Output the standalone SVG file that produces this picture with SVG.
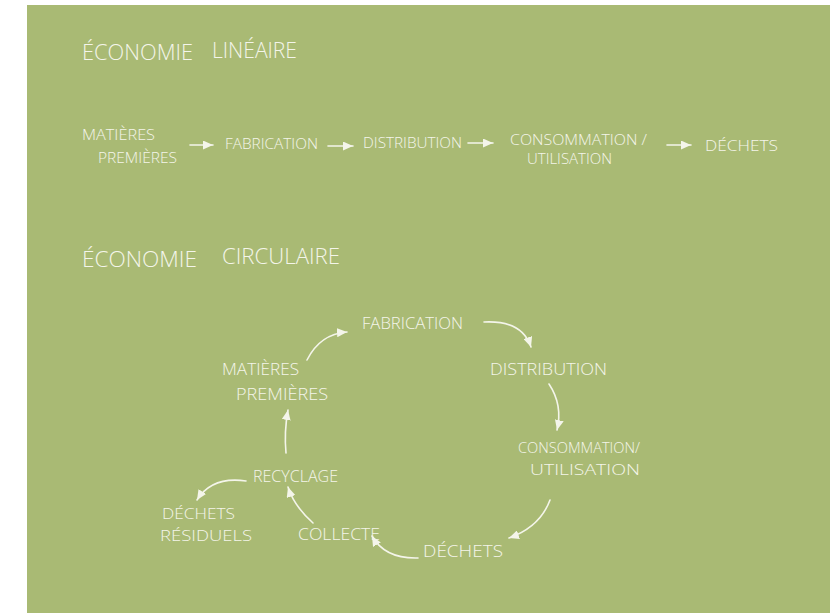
<svg xmlns="http://www.w3.org/2000/svg" width="830" height="613" viewBox="0 0 830 613">
<style>
  .bg{fill:#a9ba74}
  text{font-family:"Open Sans","Liberation Sans",sans-serif;font-weight:300;fill:#f4f5ea}
  .title{font-size:22px}
  .lin{font-size:14px}
  .circ{font-size:17px}
  .circ2{font-size:15px}
  .conn{fill:none;stroke:#f4f5ea;stroke-width:1.6;stroke-linecap:round;marker-end:url(#ah)}
</style>
<defs>
  <marker id="ah" markerUnits="userSpaceOnUse" markerWidth="11" markerHeight="9" refX="10" refY="4.5" orient="auto">
    <path d="M0,0 L10,4.5 L0,9 Z" fill="#f4f5ea"/>
  </marker>
</defs>
<rect width="830" height="613" fill="#ffffff"/>
<rect class="bg" x="27" y="5" width="803" height="608"/>

<g id="title-lineaire">
  <text class="title" y="60"><tspan x="82" textLength="111" lengthAdjust="spacingAndGlyphs">ÉCONOMIE</tspan><tspan x="212" y="58" textLength="85" lengthAdjust="spacingAndGlyphs">LINÉAIRE</tspan></text>
</g>

<g id="lin-matieres"><text class="lin"><tspan x="82" y="140" textLength="73" lengthAdjust="spacingAndGlyphs">MATIÈRES</tspan><tspan x="98" y="163" textLength="79" lengthAdjust="spacingAndGlyphs">PREMIÈRES</tspan></text></g>
<g id="lin-fabrication"><text class="lin" x="225" y="149" textLength="93" lengthAdjust="spacingAndGlyphs">FABRICATION</text></g>
<g id="lin-distribution"><text class="lin" x="363" y="148" textLength="99" lengthAdjust="spacingAndGlyphs">DISTRIBUTION</text></g>
<g id="lin-consommation"><text class="lin"><tspan x="510" y="145" textLength="137" lengthAdjust="spacingAndGlyphs">CONSOMMATION /</tspan><tspan x="527" y="164" textLength="85" lengthAdjust="spacingAndGlyphs">UTILISATION</tspan></text></g>
<g id="lin-dechets"><text class="lin" x="705" y="151" textLength="73" lengthAdjust="spacingAndGlyphs">DÉCHETS</text></g>

<g id="title-circulaire">
  <text class="title" y="267"><tspan x="82" textLength="115" lengthAdjust="spacingAndGlyphs">ÉCONOMIE</tspan><tspan x="222" y="264" textLength="118" lengthAdjust="spacingAndGlyphs">CIRCULAIRE</tspan></text>
</g>

<g id="c-fabrication"><text class="circ" x="362" y="329" textLength="101" lengthAdjust="spacingAndGlyphs">FABRICATION</text></g>
<g id="c-distribution"><text class="circ" x="490" y="375" textLength="117" lengthAdjust="spacingAndGlyphs">DISTRIBUTION</text></g>
<g id="c-consommation"><text class="circ2"><tspan x="518" y="453" textLength="122" lengthAdjust="spacingAndGlyphs">CONSOMMATION/</tspan><tspan x="530" y="475" textLength="110" lengthAdjust="spacingAndGlyphs">UTILISATION</tspan></text></g>
<g id="c-dechets"><text class="circ" x="423" y="557" textLength="80" lengthAdjust="spacingAndGlyphs">DÉCHETS</text></g>
<g id="c-collecte"><text class="circ" x="298" y="540" textLength="82" lengthAdjust="spacingAndGlyphs">COLLECTE</text></g>
<g id="c-recyclage"><text class="circ" x="253" y="482" textLength="85" lengthAdjust="spacingAndGlyphs">RECYCLAGE</text></g>
<g id="c-matieres"><text class="circ"><tspan x="222" y="375" textLength="77" lengthAdjust="spacingAndGlyphs">MATIÈRES</tspan><tspan x="236" y="400" textLength="92" lengthAdjust="spacingAndGlyphs">PREMIÈRES</tspan></text></g>
<g id="c-residuels"><text class="circ2"><tspan x="162" y="519" textLength="73" lengthAdjust="spacingAndGlyphs">DÉCHETS</tspan><tspan x="160" y="541" textLength="92" lengthAdjust="spacingAndGlyphs">RÉSIDUELS</tspan></text></g>

<g id="connectors">
  <line class="conn" x1="190" y1="145" x2="213" y2="145"/>
  <line class="conn" x1="328" y1="146" x2="353" y2="146"/>
  <line class="conn" x1="468" y1="143" x2="493" y2="143"/>
  <line class="conn" x1="667" y1="145" x2="691" y2="145"/>

  <path class="conn" d="M307,360 Q320,334 347,332"/>
  <path class="conn" d="M484,322 Q522,320 531,347"/>
  <path class="conn" d="M549,384 Q563,405 557,430"/>
  <path class="conn" d="M550,500 Q540,527 509,538"/>
  <path class="conn" d="M418,558 Q385,559 372,536"/>
  <path class="conn" d="M313,523 Q294,506 288,487"/>
  <path class="conn" d="M286,453 Q284,432 288,410"/>
  <path class="conn" d="M246,481 Q212,476 197,500"/>
</g>
</svg>
